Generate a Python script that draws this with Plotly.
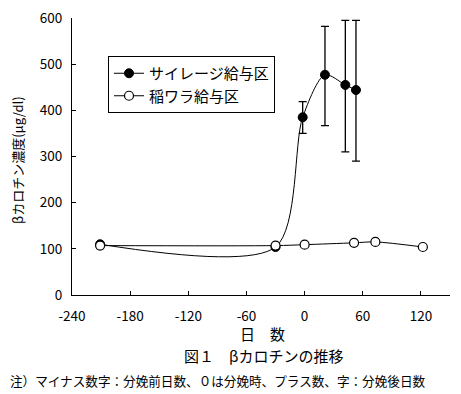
import plotly.graph_objects as go

# Data
silage_days = [-211, -30, -2, 21, 42, 53]
silage_vals = [110, 104, 385, 477, 455, 444]
silage_err_plus = [0, 0, 34, 105, 140, 151]
silage_err_minus = [0, 0, 35, 110, 145, 154]

straw_days = [-211, -30, 0, 51, 73, 122]
straw_vals = [107, 107, 109, 113, 115, 104]

x_ticks = [-240, -180, -120, -60, 0, 60, 120]
x_tick_labels = ["-240", "-180", "-120", "-60", "0", "60", "120"]
y_ticks = [0, 100, 200, 300, 400, 500, 600]

FONT = "Noto Sans CJK JP"
OX, OY = 8, 8  # page offset of the plot div (default body margin)
W, H = 461 - OX, 394 - OY
# desired plot-area edges in page pixels
PL, PR, PT, PB = 72, 450, 18, 295
L, T = PL - OX, PT - OY
R, B = W - (PR - OX), H - (PB - OY)
PW, PH = PR - PL, PB - PT


def px_x(px):
    return (px - PL) / PW


def px_y(py):
    return (PB - py) / PH


fig = go.Figure()
fig.add_trace(go.Scatter(
    x=silage_days, y=silage_vals, name="サイレージ給与区",
    mode="lines+markers",
    line=dict(color="black", width=1, shape="spline", smoothing=0.8),
    marker=dict(symbol="circle", size=9, color="black", line=dict(color="black", width=1)),
    error_y=dict(type="data", symmetric=False, array=silage_err_plus,
                 arrayminus=silage_err_minus, color="black", thickness=1.3, width=4),
))
fig.add_trace(go.Scatter(
    x=straw_days, y=straw_vals, name="稲ワラ給与区",
    mode="lines+markers",
    line=dict(color="black", width=1, shape="spline", smoothing=0.8),
    marker=dict(symbol="circle", size=9, color="white", line=dict(color="black", width=1.2)),
))

fig.update_layout(
    width=W, height=H,
    margin=dict(l=L, r=R, t=T, b=B),
    paper_bgcolor="white", plot_bgcolor="white",
    font=dict(family=FONT, size=13, color="black"),
    showlegend=True,
    legend=dict(x=px_x(108), y=px_y(56), xanchor="left", yanchor="top",
                bordercolor="black", borderwidth=1, bgcolor="white",
                font=dict(family=FONT, size=15), tracegroupgap=0,
                itemwidth=30),
    xaxis=dict(range=[-240, 150], tickvals=x_ticks, ticktext=x_tick_labels,
               ticks="inside", ticklen=4,
               tickcolor="black", showline=True, linecolor="black", linewidth=1,
               showgrid=False, zeroline=False, tickfont=dict(size=13.5),
               ticklabelstandoff=9, automargin=False, ticklabeloverflow="allow"),
    yaxis=dict(range=[0, 600], tickvals=y_ticks, ticks="inside", ticklen=4,
               tickcolor="black", showline=True, linecolor="black", linewidth=1,
               showgrid=False, zeroline=False, tickfont=dict(size=13.5),
               ticklabelstandoff=6, automargin=False, ticklabeloverflow="allow"),
    annotations=[
        dict(text="βカロチン濃度(μg/dl)", xref="paper", yref="paper",
             x=px_x(17), y=px_y(160), xanchor="center", yanchor="middle",
             textangle=-90, showarrow=False, font=dict(size=13)),
        dict(text="日　数", xref="paper", yref="paper",
             x=px_x(262), y=px_y(333), xanchor="center", yanchor="middle",
             showarrow=False, font=dict(size=15)),
        dict(text="図１　βカロチンの推移", xref="paper", yref="paper",
             x=px_x(263), y=px_y(355), xanchor="center", yanchor="middle",
             showarrow=False, font=dict(size=15)),
        dict(text="注）マイナス数字：分娩前日数、０は分娩時、プラス数、字：分娩後日数",
             xref="paper", yref="paper",
             x=px_x(8), y=px_y(380), xanchor="left", yanchor="middle",
             showarrow=False, font=dict(size=12.6)),
    ],
)

fig.write_html("out.html")
